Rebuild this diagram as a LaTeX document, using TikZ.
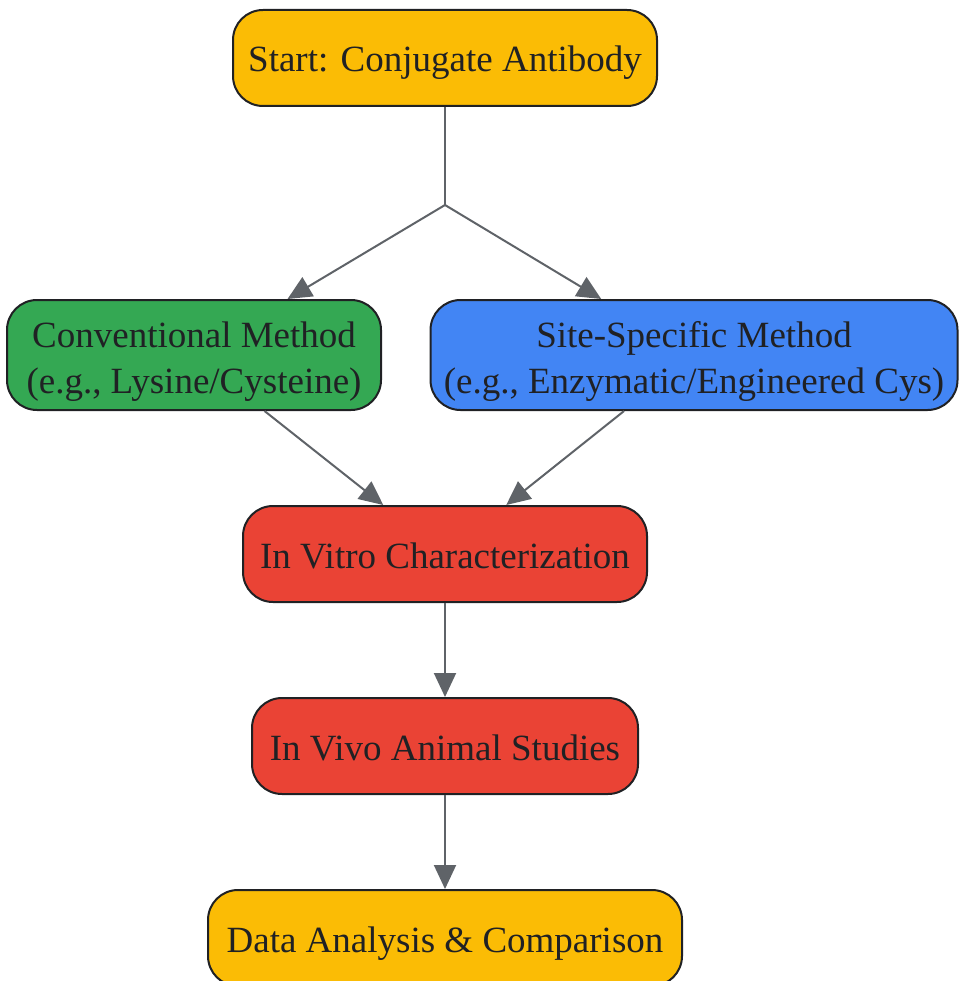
\documentclass[tikz,border=0pt]{standalone}
\usepackage{fontspec}
\setmainfont{Liberation Serif}
\usetikzlibrary{arrows.meta}

\definecolor{gyellow}{HTML}{FBBC05}
\definecolor{ggreen}{HTML}{34A853}
\definecolor{gblue}{HTML}{4285F4}
\definecolor{gred}{HTML}{EA4335}
\definecolor{ink}{HTML}{202124}
\definecolor{wire}{HTML}{5F6368}

\begin{document}
\begin{tikzpicture}[x=1pt, y=-1pt,
    box/.style={draw=ink, line width=2pt, rounded corners=30pt, text=ink,
      font=\fontsize{37}{46}\selectfont, align=center, inner sep=0pt,
      text height=28pt, text depth=0pt, minimum height=96pt},
    twoline/.style={box, text height=76pt, minimum height=110pt},
    link/.style={draw=wire, line width=2pt},
    flow/.style={link, -{Triangle[length=24pt, width=22pt]}}]
  \useasboundingbox (0,0) rectangle (959,981);

  \node[box, fill=gyellow, minimum width=424pt] (start) at (445, 58) {Start: Conjugate Antibody};
  \coordinate (split) at (445, 205);
  \node[twoline, fill=ggreen, minimum width=374pt] (conv) at (194, 355) {Conventional Method\\(e.g., Lysine/Cysteine)};
  \node[twoline, fill=gblue, minimum width=527pt] (site) at (694, 355) {Site-Specific Method\\(e.g., Enzymatic/Engineered Cys)};
  \node[box, fill=gred, minimum width=404pt] (vitro) at (445, 554) {In Vitro Characterization};
  \node[box, fill=gred, minimum width=386pt] (vivo) at (445, 746) {In Vivo Animal Studies};
  \node[box, fill=gyellow, minimum width=474pt] (data) at (445, 938) {Data Analysis \& Comparison};

  % branch into the two methods
  \draw[link] (start) -- (split);
  \path
    (split) edge[flow] (conv)
    (split) edge[flow] (site);
  % merge and go down
  \path
    (conv) edge[flow] (vitro)
    (site) edge[flow] (vitro)
    (vitro) edge[flow] (vivo)
    (vivo) edge[flow] (data);
\end{tikzpicture}
\end{document}
